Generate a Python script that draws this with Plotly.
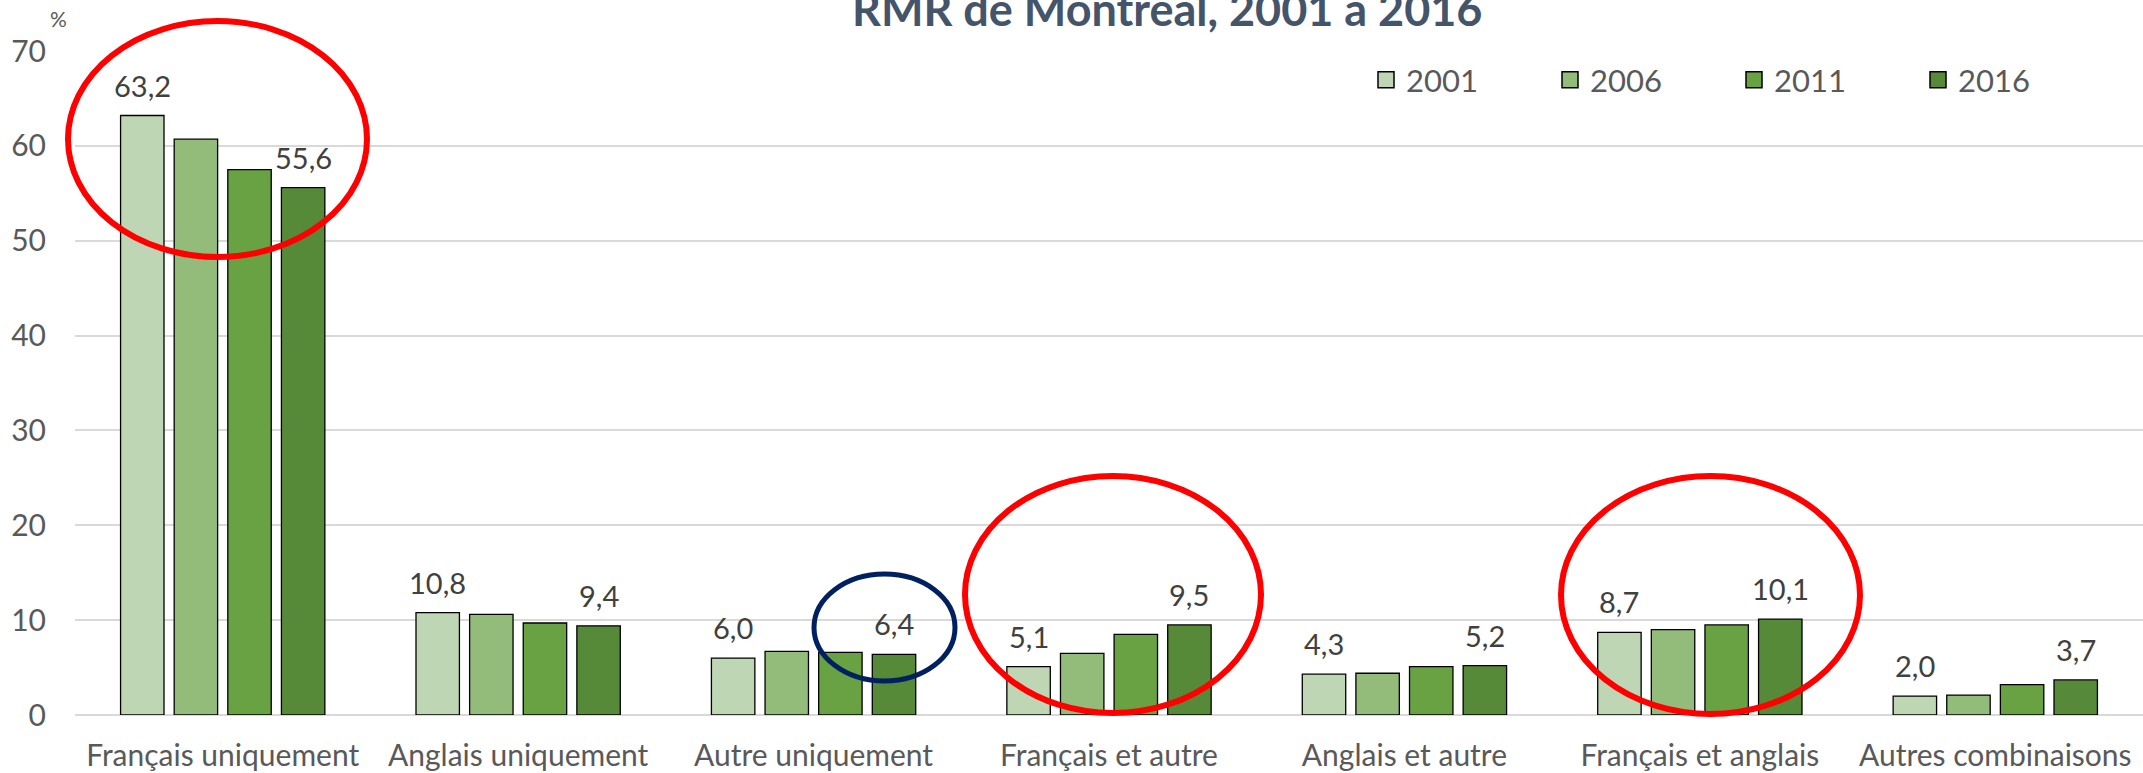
import plotly.graph_objects as go

categories = ["Français uniquement", "Anglais uniquement", "Autre uniquement",
              "Français et autre", "Anglais et autre", "Français et anglais",
              "Autres combinaisons"]
years = ["2001", "2006", "2011", "2016"]
values_2001 = [63.2, 10.8, 6.0, 5.1, 4.3, 8.7, 2.0]
values_2006 = [60.7, 10.6, 6.7, 6.5, 4.4, 9.0, 2.1]
values_2011 = [57.5, 9.7, 6.6, 8.5, 5.1, 9.5, 3.2]
values_2016 = [55.6, 9.4, 6.4, 9.5, 5.2, 10.1, 3.7]
labelled_years = ["2001", "2016"]
y_ticks = [0, 10, 20, 30, 40, 50, 60, 70]
title_text = "RMR de Montréal, 2001 à 2016"
unit_text = "%"

series = {"2001": values_2001, "2006": values_2006, "2011": values_2011, "2016": values_2016}
colors = {"2001": "#BED6B3", "2006": "#93BB7A", "2011": "#69A243", "2016": "#578A38"}

FONT = "Lato"
W, H = 2143, 773
ML, MR, MT, MB = 75, 0, 51, 58
BARGAP = 0.274
GROUPGAP = 0.19

fig = go.Figure()
for yr in years:
    fig.add_trace(go.Bar(
        name=yr, x=categories, y=series[yr], legendgroup=yr, showlegend=False,
        marker=dict(color=colors[yr], line=dict(color="#000000", width=1.3)),
        hoverinfo="x+y+name",
    ))
# legend entries with larger square swatches (no data drawn)
for yr in years:
    fig.add_trace(go.Scatter(
        name=yr, x=[None], y=[None], mode="markers", legendgroup=yr, showlegend=True,
        marker=dict(symbol="square", size=16, color=colors[yr],
                    line=dict(color="#000000", width=1.5)),
    ))

# data labels (only first and last year), placed via the axis scales
slot = (1 - BARGAP) / len(years)
annotations = []
for i, yr in enumerate(years):
    if yr not in labelled_years:
        continue
    off = (i - (len(years) - 1) / 2) * slot
    for ci, v in enumerate(series[yr]):
        annotations.append(dict(
            x=ci + off, y=v, xref="x", yref="y",
            text=f"{v:.1f}".replace(".", ","),
            showarrow=False, yanchor="bottom", xanchor="center", yshift=11,
            font=dict(family=FONT, size=29, color="#404040"),
        ))

pw = W - ML - MR
ph = H - MT - MB
def px_x(px):
    return (px - ML) / pw
def px_y(py):
    return (H - MB - py) / ph

annotations.append(dict(
    x=px_x(1167), y=px_y(38), xref="paper", yref="paper", text=f"<b>{title_text}</b>",
    showarrow=False, xanchor="center", yanchor="bottom",
    font=dict(family=FONT, size=45, color="#44546A"),
))
annotations.append(dict(
    x=px_x(58), y=px_y(18), xref="paper", yref="paper", text=unit_text,
    showarrow=False, xanchor="center", yanchor="middle",
    font=dict(family=FONT, size=21, color="#595959"),
))

shapes = []
for (x0, y0, x1, y1, col, lw) in [
    (68, 21, 367, 257, "#FF0000", 6),
    (965, 476, 1261, 713, "#FF0000", 6),
    (1561, 476, 1860, 714, "#FF0000", 6),
    (814, 574, 955, 681, "#002060", 5),
]:
    shapes.append(dict(type="circle", xref="paper", yref="paper",
                       x0=px_x(x0), x1=px_x(x1), y0=px_y(y1), y1=px_y(y0),
                       line=dict(color=col, width=lw), layer="above"))

fig.update_layout(
    width=W, height=H,
    margin=dict(l=ML, r=MR, t=MT, b=MB, pad=0),
    paper_bgcolor="white", plot_bgcolor="white",
    barmode="group", bargap=BARGAP, bargroupgap=GROUPGAP,
    font=dict(family=FONT, size=30, color="#595959"),
    showlegend=True,
    legend=dict(orientation="h", x=px_x(1366), y=px_y(80), xanchor="left", yanchor="middle",
                entrywidth=139, entrywidthmode="pixels", itemsizing="trace",
                font=dict(family=FONT, size=31, color="#595959"),
                bgcolor="rgba(0,0,0,0)", traceorder="normal"),
    xaxis=dict(type="category", showline=False, ticks="", showgrid=False,
               tickfont=dict(family=FONT, size=30, color="#595959"),
               ticklabelstandoff=20, range=[-0.5, len(categories) - 0.5]),
    yaxis=dict(range=[0, 70], tickvals=y_ticks, showgrid=True, gridcolor="#D9D9D9",
               gridwidth=2, zeroline=True, zerolinecolor="#D9D9D9", zerolinewidth=2,
               showline=False, ticks="",
               tickfont=dict(family=FONT, size=30, color="#595959"),
               ticklabelstandoff=28),
    annotations=annotations,
    shapes=shapes,
)

fig.write_html("out.html", config={"displayModeBar": False},
               post_script="document.body.style.margin='0';document.body.style.overflow='hidden';")
